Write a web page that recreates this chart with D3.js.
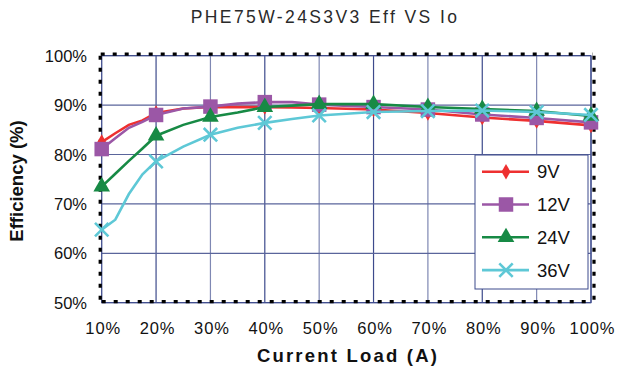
<!DOCTYPE html>
<html>
<head>
<meta charset="utf-8">
<script src="https://cdn.jsdelivr.net/npm/d3@7/dist/d3.min.js"></script>
<style>
  body { margin: 0; background: #fff; }
  svg { font-family: "Liberation Sans", Arial, sans-serif; }
</style>
</head>
<body>
<svg id="chart"></svg>
<script>
// load points (% of rated current) where each curve was measured
var loads = [10, 12.5, 15, 17.5, 20, 25, 30, 35, 40, 45, 50, 60, 70, 80, 90, 100];
var eff9V  = [82.5, 84.3, 86.0, 86.9, 88.4, 89.3, 89.6, 89.6, 89.6, 89.5, 89.4, 89.1, 88.4, 87.5, 86.8, 85.9];
var eff12V = [81.1, 83.3, 85.4, 86.6, 88.0, 89.3, 89.7, 90.3, 90.6, 90.6, 90.1, 89.6, 89.1, 88.1, 87.4, 86.5];
var eff24V = [73.5, 76.1, 78.7, 81.2, 83.8, 86.0, 87.6, 88.5, 89.6, 89.9, 90.2, 90.2, 89.6, 89.2, 88.8, 87.8];
var eff36V = [64.8, 66.8, 72.0, 76.0, 78.6, 81.6, 84.0, 85.4, 86.4, 87.2, 87.9, 88.6, 88.8, 88.9, 88.6, 88.0];
var seriesNames = ["9V", "12V", "24V", "36V"];
var xTicks = [10, 20, 30, 40, 50, 60, 70, 80, 90, 100];
var yTicks = [50, 60, 70, 80, 90, 100];

var W = 619, H = 373;
var pl = 101.7, pr = 591, pt = 55.7, pb = 302.7;

var svg = d3.select('#chart').attr('width', W).attr('height', H);

var x = d3.scaleLinear().domain([10, 100]).range([pl, pr]);
var y = d3.scaleLinear().domain([50, 100]).range([pb, pt]);

var crossType = {
  draw: function(ctx, size) {
    var r = Math.sqrt(size) / 2;
    ctx.moveTo(-r, -r); ctx.lineTo(r, r);
    ctx.moveTo(r, -r); ctx.lineTo(-r, r);
  }
};

var series = [
  { name: seriesNames[0], values: eff9V,  color: '#ee3030', sym: d3.symbolDiamond,  size: 70,  fill: true },
  { name: seriesNames[1], values: eff12V, color: '#9b57a6', sym: d3.symbolSquare,   size: 210, fill: true },
  { name: seriesNames[2], values: eff24V, color: '#178a45', sym: d3.symbolTriangle, size: 120, fill: true },
  { name: seriesNames[3], values: eff36V, color: '#5ec8d6', sym: crossType,         size: 180, fill: false }
];

// title
svg.append('text')
  .attr('x', 325).attr('y', 23)
  .attr('text-anchor', 'middle')
  .attr('font-size', 17.5)
  .attr('letter-spacing', 2.4)
  .attr('fill', '#2a2a2a')
  .text('PHE75W-24S3V3 Eff VS Io');

// grid
svg.append('g').selectAll('line').data(xTicks).enter().append('line')
  .attr('x1', function(d) { return x(d); }).attr('x2', function(d) { return x(d); })
  .attr('y1', pt).attr('y2', pb)
  .attr('stroke', function(d, i) { return i % 2 ? '#3d4a8c' : '#7f88b3'; })
  .attr('stroke-width', 1.2);
svg.append('g').selectAll('line').data(yTicks).enter().append('line')
  .attr('x1', pl).attr('x2', pr)
  .attr('y1', function(d) { return y(d); }).attr('y2', function(d) { return y(d); })
  .attr('stroke', '#5a659b')
  .attr('stroke-width', 1.2);

// plot frame: thin navy box plus dashed black edges
svg.append('rect')
  .attr('x', pl).attr('y', pt).attr('width', pr - pl).attr('height', pb - pt)
  .attr('fill', 'none').attr('stroke', '#3d4a8c').attr('stroke-width', 1);
var dash = svg.append('g').attr('stroke', '#000').attr('stroke-width', 3.2).attr('stroke-dasharray', '4,8');
dash.append('line').attr('x1', pl - 1).attr('x2', pr + 2).attr('y1', pt - 1.5).attr('y2', pt - 1.5);
dash.append('line').attr('x1', pl - 1.5).attr('x2', pl - 1.5).attr('y1', pt).attr('y2', pb);
dash.append('line').attr('x1', pr + 3).attr('x2', pr + 3).attr('y1', pt).attr('y2', pb);
dash.append('line').attr('x1', pl).attr('x2', pr + 2).attr('y1', pb - 1).attr('y2', pb - 1);

// axis labels
svg.append('g').selectAll('text').data(yTicks).enter().append('text')
  .attr('x', 87).attr('y', function(d) { return y(d) + 6; })
  .attr('text-anchor', 'end').attr('font-size', 16.5).attr('fill', '#111')
  .text(function(d) { return d + '%'; });
svg.append('g').selectAll('text').data(xTicks).enter().append('text')
  .attr('x', function(d) { return x(d) + 1.5; }).attr('y', 334)
  .attr('text-anchor', 'middle').attr('font-size', 16.5).attr('fill', '#111')
  .attr('letter-spacing', 0.9)
  .text(function(d) { return d + '%'; });

svg.append('text')
  .attr('x', 348).attr('y', 362)
  .attr('text-anchor', 'middle').attr('font-size', 18.5).attr('font-weight', 'bold')
  .attr('letter-spacing', 2.2).attr('fill', '#111')
  .text('Current Load (A)');
svg.append('text')
  .attr('transform', 'translate(23,181) rotate(-90)')
  .attr('text-anchor', 'middle').attr('font-size', 18.5).attr('font-weight', 'bold')
  .attr('fill', '#111')
  .text('Efficiency (%)');

// curves
var line = d3.line()
  .x(function(d) { return x(d[0]); })
  .y(function(d) { return y(d[1]); });

function markerPath(s) {
  return d3.symbol().type(s.sym).size(s.size)();
}
function styleMarker(sel, s) {
  if (s.fill) sel.attr('fill', s.color).attr('stroke', 'none');
  else sel.attr('fill', 'none').attr('stroke', s.color).attr('stroke-width', 2.6);
}

series.forEach(function(s) {
  var pts = loads.map(function(l, i) { return [l, s.values[i]]; });
  svg.append('path').datum(pts)
    .attr('d', line)
    .attr('fill', 'none')
    .attr('stroke', s.color)
    .attr('stroke-width', 2.6);
  var marks = pts.filter(function(p) { return xTicks.indexOf(p[0]) >= 0; });
  var m = svg.append('g').selectAll('path').data(marks).enter().append('path')
    .attr('transform', function(d) { return 'translate(' + x(d[0]) + ',' + y(d[1]) + ')'; })
    .attr('d', markerPath(s));
  styleMarker(m, s);
});

// legend
var lg = svg.append('g');
lg.append('rect')
  .attr('x', 475).attr('y', 155).attr('width', 113).attr('height', 134)
  .attr('fill', '#fff').attr('stroke', '#3d4a8c').attr('stroke-width', 1);
var rows = lg.selectAll('g').data(series).enter().append('g')
  .attr('transform', function(d, i) { return 'translate(0,' + (171.7 + i * 32.8) + ')'; });
rows.append('line')
  .attr('x1', 482).attr('x2', 529)
  .attr('stroke', function(d) { return d.color; }).attr('stroke-width', 2.6);
rows.each(function(s) {
  var p = d3.select(this).append('path')
    .attr('transform', 'translate(506,0)')
    .attr('d', markerPath(s));
  styleMarker(p, s);
});
rows.append('text')
  .attr('x', 537).attr('y', 6.5)
  .attr('font-size', 18.5).attr('fill', '#111')
  .text(function(d) { return d.name; });
</script>
</body>
</html>
